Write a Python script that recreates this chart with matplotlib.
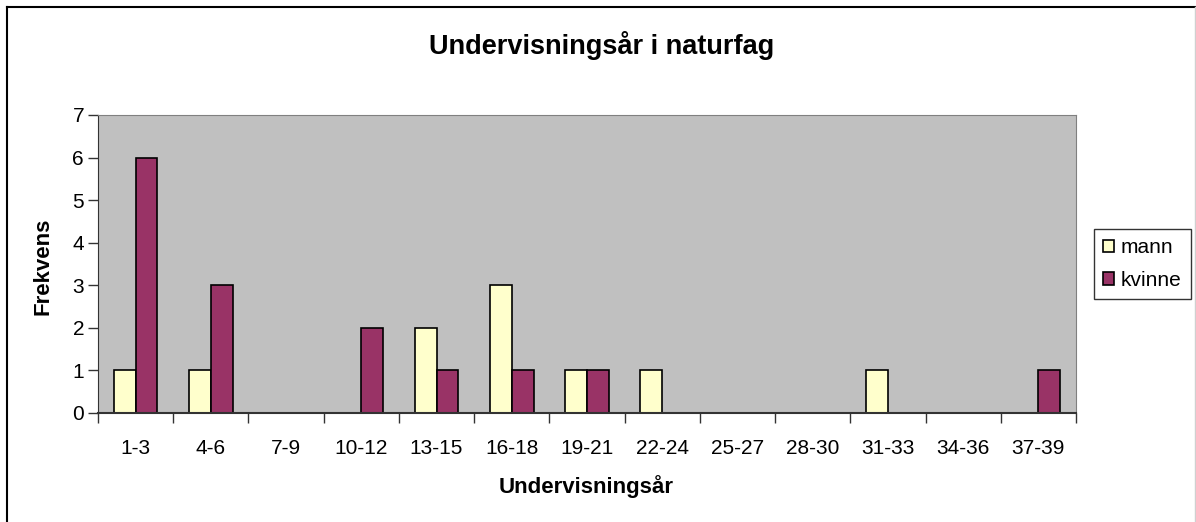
import numpy as np
import matplotlib.pyplot as plt
from matplotlib.lines import Line2D

plt.rcParams['font.family'] = ['Liberation Sans', 'DejaVu Sans']

kategorier = ["1-3", "4-6", "7-9", "10-12", "13-15", "16-18", "19-21",
              "22-24", "25-27", "28-30", "31-33", "34-36", "37-39"]
mann = [1, 1, 0, 0, 2, 3, 1, 1, 0, 0, 1, 0, 0]
kvinne = [6, 3, 0, 2, 1, 1, 1, 0, 0, 0, 0, 0, 1]

W, H = 1196, 522
fig = plt.figure(figsize=(W / 100, H / 100), dpi=100)
ax = fig.add_axes([98 / W, 1 - 413 / H, (1076 - 98) / W, (413 - 115) / H])
ax.set_facecolor("#C0C0C0")

x = np.arange(len(kategorier))
b = 0.29
ax.bar(x - b / 2, mann, b, color="#FFFFCC", edgecolor="black", linewidth=1.2, label="mann")
ax.bar(x + b / 2, kvinne, b, color="#993366", edgecolor="black", linewidth=1.2, label="kvinne")

ax.set_xlim(-0.5, len(kategorier) - 0.5)
ax.set_ylim(0, 7)
ax.set_yticks(range(0, 8))
ax.set_xticks(x)
ax.set_xticklabels(kategorier)
ax.set_xticks(np.arange(-0.5, len(kategorier)), minor=True)
ax.tick_params(axis="x", which="major", length=0, pad=19, labelsize=15)
ax.tick_params(axis="x", which="minor", length=7, width=1, color="#333333")
ax.tick_params(axis="y", length=7, width=1, color="#333333", labelsize=15, pad=3)

for s in ["top", "right"]:
    ax.spines[s].set_color("#808080")
for s in ["left", "bottom"]:
    ax.spines[s].set_color("#333333")
ax.spines["bottom"].set_linewidth(1.5)

fig.text(43 / W, 1 - 266 / H, "Frekvens", rotation=90, ha="center", va="center",
         fontsize=16, fontweight="bold")
fig.text(586 / W, 1 - 487 / H, "Undervisningsår", ha="center", va="center",
         fontsize=16, fontweight="bold")
fig.text(602 / W, 1 - 45 / H, "Undervisningsår i naturfag", ha="center", va="center",
         fontsize=19.5, fontweight="bold")

leg = ax.legend(loc="center left", bbox_to_anchor=(1.018, 0.5), fontsize=15,
                frameon=True, fancybox=False, edgecolor="black",
                handlelength=0.55, handleheight=0.55, handletextpad=0.3,
                borderpad=0.45, borderaxespad=0, labelspacing=0.65)
leg.get_frame().set_linewidth(1)

# outer chart border
fig.add_artist(Line2D([7 / W, 7 / W], [0, 1 - 7 / H], transform=fig.transFigure,
                      color="black", linewidth=1.5))
fig.add_artist(Line2D([7 / W, 1], [1 - 7 / H, 1 - 7 / H], transform=fig.transFigure,
                      color="black", linewidth=1.5))
fig.add_artist(Line2D([1195 / W, 1195 / W], [0, 1 - 7 / H], transform=fig.transFigure,
                      color="#D0D0D0", linewidth=1))

fig.savefig("out.png", dpi=100)
